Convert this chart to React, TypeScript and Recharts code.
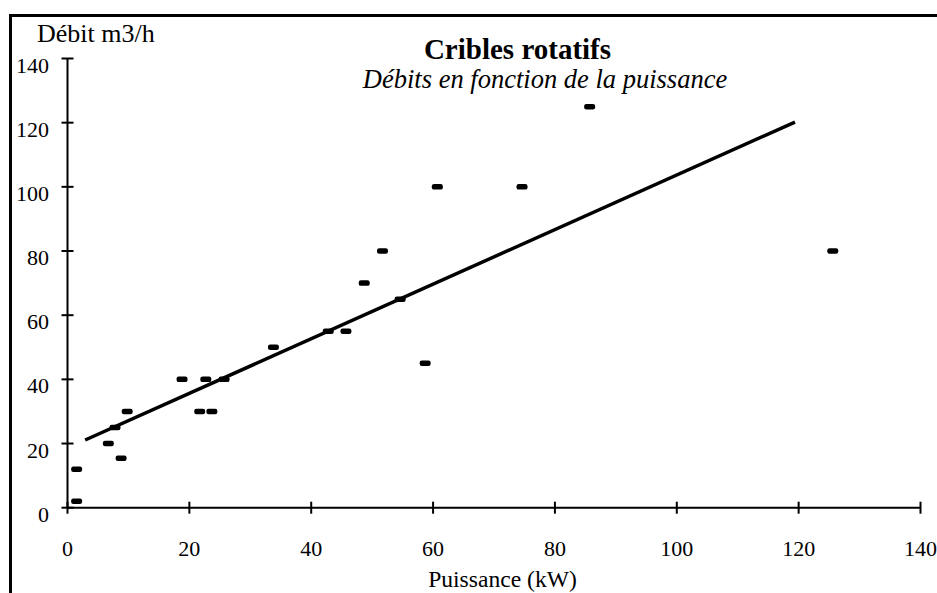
import { ScatterChart, Scatter, XAxis, YAxis } from 'recharts'

// Puissance (kW) et débit (m3/h)
const puissance = [1.5, 1.5, 6.7, 7.8, 8.8, 9.8, 18.8, 21.7, 22.7, 23.7, 25.7, 33.8, 42.8, 45.7, 48.7, 51.7, 54.6, 58.7, 60.7, 74.6, 85.7, 125.6]
const debit = [2, 12, 20, 25, 15.4, 30, 40, 30, 40, 30, 40, 50, 55, 55, 70, 80, 65, 45, 100, 100, 125, 80]

// droite de tendance (extrémités)
const trendX = [2.9, 119.4]
const trendY = [21.1, 120.2]

const axisTicks = [0, 20, 40, 60, 80, 100, 120, 140]

const points = puissance.map((x, i) => ({ x, y: debit[i] }))
const trend = trendX.map((x, i) => ({ x, y: trendY[i] }))

const FONT = '"Liberation Serif", "Times New Roman", serif'

const YTick = (props: any) => {
  const { x, y, payload } = props
  return (
    <g>
      <line x1={x - 6} x2={x + 6} y1={y} y2={y} stroke="#000" strokeWidth={2} />
      <text x={x - 18.5} y={y + 14} textAnchor="end" fontSize={22} fontFamily={FONT} fill="#000">
        {payload.value}
      </text>
    </g>
  )
}

const XTick = (props: any) => {
  const { x, y, payload } = props
  return (
    <g>
      <line x1={x} x2={x} y1={y - 6} y2={y + 6} stroke="#000" strokeWidth={2} />
      <text x={x} y={y + 48} textAnchor="middle" fontSize={22} fontFamily={FONT} fill="#000">
        {payload.value}
      </text>
    </g>
  )
}

const Dash = (props: any) => {
  const { cx, cy } = props
  return <rect x={cx - 5.5} y={cy - 2.75} width={11} height={5.5} rx={2.2} fill="#000" />
}

export default function App() {
  return (
    <div style={{ position: 'absolute', left: 0, top: 0, width: 937, height: 593, background: '#fff', overflow: 'hidden' }}>
      <div
        style={{
          position: 'absolute',
          left: 9,
          top: 14,
          right: 0,
          bottom: 0,
          borderTop: '3px solid #000',
          borderLeft: '3px solid #000',
        }}
      />
      <div style={{ position: 'absolute', left: 0, top: 0 }}>
        <ScatterChart width={937} height={593} margin={{ top: 58.5, right: 16.5, left: 17.5, bottom: 55.3 }}>
          <XAxis
            type="number"
            dataKey="x"
            domain={[0, 140]}
            ticks={axisTicks}
            height={30}
            tickSize={0}
            tickMargin={0}
            tickLine={false}
            axisLine={{ stroke: '#000', strokeWidth: 2 }}
            tick={<XTick />}
            interval={0}
          />
          <YAxis
            type="number"
            dataKey="y"
            domain={[0, 140]}
            ticks={axisTicks}
            width={50}
            tickSize={0}
            tickMargin={0}
            tickLine={false}
            axisLine={{ stroke: '#000', strokeWidth: 2 }}
            tick={<YTick />}
            interval={0}
          />
          <Scatter data={trend} line={{ stroke: '#000', strokeWidth: 3.5 }} shape={() => <g />} isAnimationActive={false} />
          <Scatter data={points} shape={<Dash />} isAnimationActive={false} />
        </ScatterChart>
      </div>
      <svg width={937} height={593} style={{ position: 'absolute', left: 0, top: 0, pointerEvents: 'none' }}>
        <text x={37} y={42} fontSize={26} fontFamily={FONT} fill="#000">
          Débit m3/h
        </text>
        <text x={517.5} y={59} fontSize={29} fontWeight="bold" textAnchor="middle" fontFamily={FONT} fill="#000">
          Cribles rotatifs
        </text>
        <text x={545} y={88} fontSize={26.5} fontStyle="italic" textAnchor="middle" fontFamily={FONT} fill="#000">
          Débits en fonction de la puissance
        </text>
        <text x={502.5} y={587} fontSize={23.6} textAnchor="middle" fontFamily={FONT} fill="#000">
          Puissance (kW)
        </text>
      </svg>
    </div>
  )
}
